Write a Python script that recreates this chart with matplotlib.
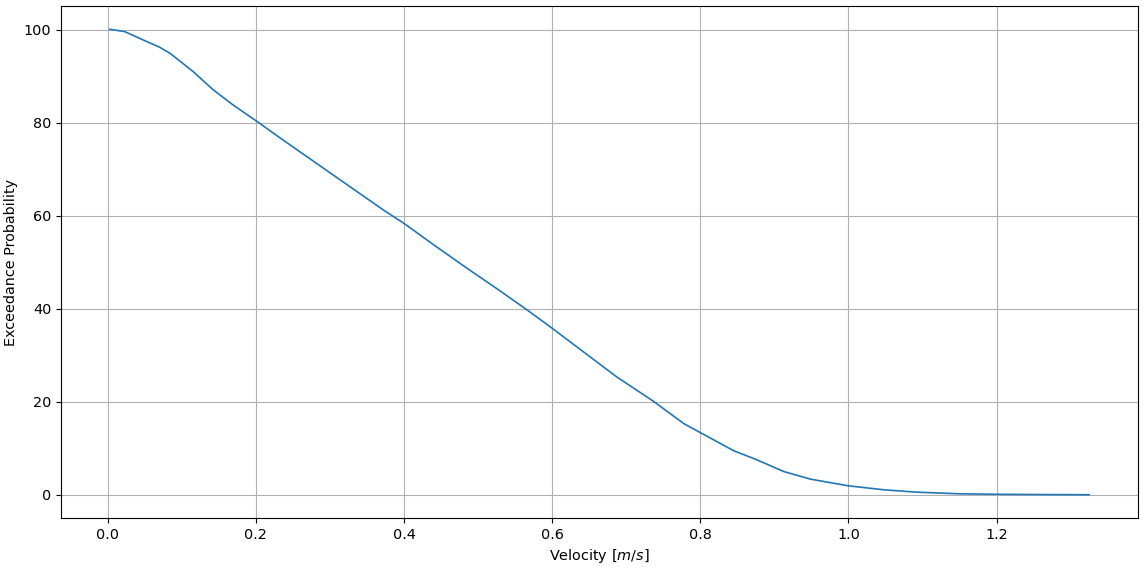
import numpy as np
import matplotlib
matplotlib.use('Agg')
import matplotlib.pyplot as plt

# values
velocity = [0.003, 0.023, 0.048, 0.070, 0.084, 0.115, 0.142, 0.169, 0.200, 0.237,
            0.282, 0.327, 0.372, 0.400, 0.440, 0.485, 0.525, 0.566, 0.600, 0.642,
            0.687, 0.737, 0.778, 0.800, 0.845, 0.874, 0.913, 0.949, 1.000, 1.048,
            1.093, 1.151, 1.200, 1.260, 1.325]
exceedance = [100.15, 99.65, 97.85, 96.3, 95.0, 91.1, 87.2, 83.9, 80.5, 76.3,
              71.3, 66.3, 61.3, 58.4, 53.8, 48.75, 44.4, 39.8, 35.85, 30.8,
              25.4, 20.1, 15.3, 13.4, 9.5, 7.7, 5.0, 3.37, 1.94, 1.08,
              0.57, 0.22, 0.12, 0.06, 0.02]

plt.rcParams['font.size'] = 10.4

fig = plt.figure(figsize=(11.44, 5.68), dpi=100)
ax = fig.add_axes([0.0533, 0.088, 0.9415, 0.9014])

ax.plot(velocity, exceedance, color='C0', lw=1.2)
ax.grid(True)
ax.set_xlabel('Velocity [$m/s$]')
ax.set_ylabel('Exceedance Probability')

fig.savefig('out.png', dpi=100)
